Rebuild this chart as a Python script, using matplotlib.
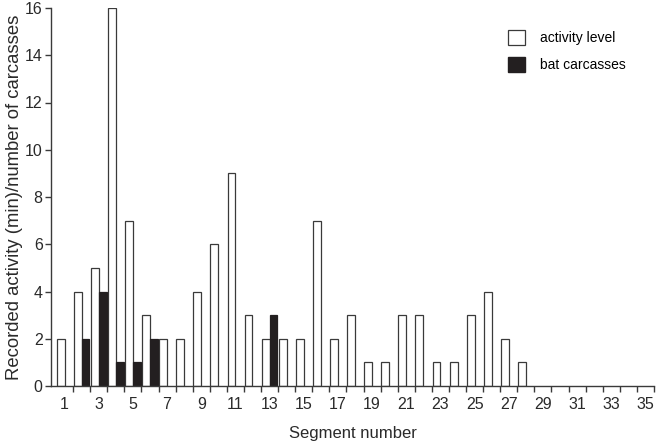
import numpy as np
import matplotlib.pyplot as plt
from matplotlib.patches import Patch

plt.rcParams['font.family'] = ['Liberation Sans', 'DejaVu Sans']

# segment numbers 1..35
segments = np.arange(1, 36)
# recorded activity (min) per segment
activity = [2, 4, 5, 16, 7, 3, 2, 2, 4, 6, 9, 3, 2, 2, 2, 7, 2, 3, 1, 1,
            3, 3, 1, 1, 3, 4, 2, 1, 0, 0, 0, 0, 0, 0, 0]
# bat carcasses found per segment
carcasses = [0, 2, 4, 1, 1, 2, 0, 0, 0, 0, 0, 0, 3, 0, 0, 0, 0, 0, 0, 0,
             0, 0, 0, 0, 0, 0, 0, 0, 0, 0, 0, 0, 0, 0, 0]
tick_labels = [str(s) for s in segments[::2]]

W = 0.46
DARK = "#231f20"
EDGE = "#3a3a3a"
TXT = "#2a2a2a"

fig = plt.figure(figsize=(6.57, 4.47), dpi=100)
ax = fig.add_axes([51 / 657, 1 - 386 / 447, 603 / 657, 378 / 447])

seg = np.array(segments, dtype=float)
act = np.array(activity)
car = np.array(carcasses)
m = act > 0
ax.bar(seg[m] - W, act[m], width=W, align="edge", facecolor="white",
       edgecolor=EDGE, linewidth=0.9)
c = car > 0
ax.bar(seg[c], car[c], width=W, align="edge", facecolor=DARK,
       edgecolor=DARK, linewidth=0.9)

ax.set_xlim(0.5 - 5 / 17.13, 35.5)
ax.set_ylim(0, 16)
ax.set_yticks(np.arange(0, 17, 2))

ax.set_xticks(segments[::2])
ax.set_xticklabels(tick_labels)
ax.set_xticks(np.arange(1.5, 36, 1), minor=True)
ax.tick_params(axis="x", which="major", length=0, pad=8, labelsize=11.5,
               colors=TXT)
ax.tick_params(axis="x", which="minor", length=4, width=1, color=EDGE)
ax.tick_params(axis="y", length=4, width=1, color=EDGE, labelsize=11.5,
               labelcolor=TXT, pad=2)

for side in ("top", "right"):
    ax.spines[side].set_visible(False)
for side in ("left", "bottom"):
    ax.spines[side].set_color(EDGE)
    ax.spines[side].set_linewidth(1)

ax.set_xlabel("Segment number", fontsize=12, color=TXT, labelpad=10)
ax.set_ylabel("Recorded activity (min)/number of carcasses", fontsize=13.3,
              color=TXT, labelpad=1)

handles = [Patch(facecolor="white", edgecolor=EDGE, linewidth=0.9, label="activity level"),
           Patch(facecolor=DARK, edgecolor=DARK, label="bat carcasses")]
ax.legend(handles=handles, loc="upper left", bbox_to_anchor=(0.737, 0.975),
          frameon=False, fontsize=10, handlelength=1.2, handleheight=1.3,
          labelspacing=0.85, handletextpad=1.1)

fig.savefig("out.png", dpi=100)
